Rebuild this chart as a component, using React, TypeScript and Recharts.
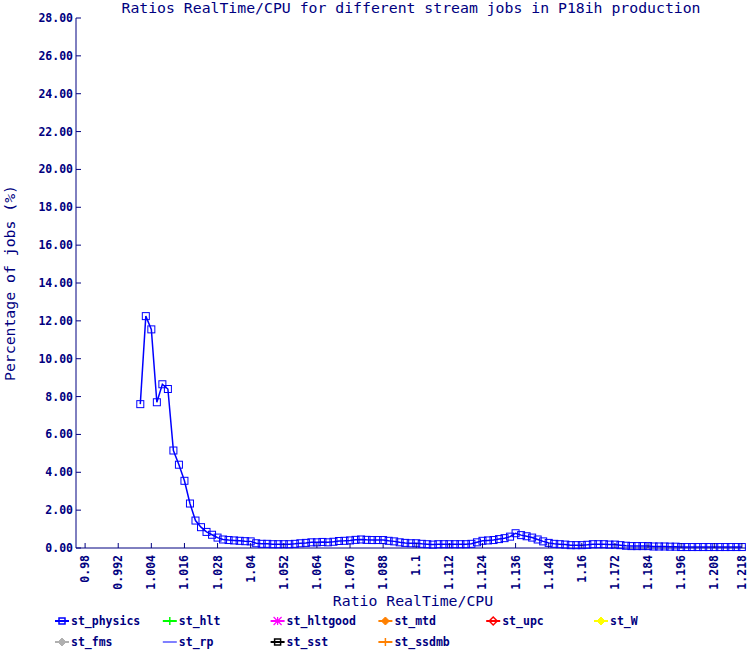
import React from 'react';
import { LineChart, Line, XAxis, YAxis } from 'recharts';

const NAVY = '#000080';
const MONO = '"DejaVu Sans Mono", monospace';

const ratioValues = [
  1.000, 1.002, 1.004, 1.006, 1.008, 1.010, 1.012, 1.014, 1.016, 1.018,
  1.020, 1.022, 1.024, 1.026, 1.028, 1.030, 1.032, 1.034, 1.036, 1.038,
  1.040, 1.042, 1.044, 1.046, 1.048, 1.050, 1.052, 1.054, 1.056, 1.058,
  1.060, 1.062, 1.064, 1.066, 1.068, 1.070, 1.072, 1.074, 1.076, 1.078,
  1.080, 1.082, 1.084, 1.086, 1.088, 1.090, 1.092, 1.094, 1.096, 1.098,
  1.100, 1.102, 1.104, 1.106, 1.108, 1.110, 1.112, 1.114, 1.116, 1.118,
  1.120, 1.122, 1.124, 1.126, 1.128, 1.130, 1.132, 1.134, 1.136, 1.138,
  1.140, 1.142, 1.144, 1.146, 1.148, 1.150, 1.152, 1.154, 1.156, 1.158,
  1.160, 1.162, 1.164, 1.166, 1.168, 1.170, 1.172, 1.174, 1.176, 1.178,
  1.180, 1.182, 1.184, 1.186, 1.188, 1.190, 1.192, 1.194, 1.196, 1.198,
  1.200, 1.202, 1.204, 1.206, 1.208, 1.210, 1.212, 1.214, 1.216, 1.218,
];

const physicsPct = [
  7.6, 12.25, 11.55, 7.7, 8.65, 8.4, 5.15, 4.4, 3.55, 2.35,
  1.45, 1.1, 0.85, 0.7, 0.55, 0.45, 0.42, 0.4, 0.38, 0.36,
  0.35, 0.25, 0.22, 0.22, 0.2, 0.2, 0.2, 0.2, 0.22, 0.25,
  0.27, 0.3, 0.3, 0.32, 0.3, 0.33, 0.37, 0.38, 0.4, 0.43,
  0.45, 0.43, 0.42, 0.42, 0.42, 0.38, 0.35, 0.3, 0.27, 0.25,
  0.25, 0.22, 0.2, 0.18, 0.2, 0.2, 0.2, 0.2, 0.2, 0.2,
  0.22, 0.3, 0.38, 0.4, 0.42, 0.47, 0.52, 0.6, 0.78, 0.68,
  0.62, 0.55, 0.45, 0.35, 0.27, 0.22, 0.2, 0.18, 0.15, 0.15,
  0.15, 0.17, 0.2, 0.2, 0.2, 0.18, 0.18, 0.15, 0.12, 0.1,
  0.1, 0.1, 0.1, 0.08, 0.08, 0.08, 0.07, 0.07, 0.05, 0.05,
  0.05, 0.05, 0.05, 0.05, 0.05, 0.05, 0.05, 0.05, 0.05, 0.05,
];

const xTickValues = [
  0.98, 0.992, 1.004, 1.016, 1.028, 1.04, 1.052, 1.064, 1.076, 1.088, 1.1,
  1.112, 1.124, 1.136, 1.148, 1.16, 1.172, 1.184, 1.196, 1.208, 1.218,
];

const yTickValues = [0, 2, 4, 6, 8, 10, 12, 14, 16, 18, 20, 22, 24, 26, 28];

const seriesNames = ['st_physics', 'st_hlt', 'st_hltgood', 'st_mtd', 'st_upc', 'st_W', 'st_fms', 'st_rp', 'st_sst', 'st_ssdmb'];
const seriesColors = ['#0000ff', '#00ff00', '#ff00ff', '#ff8000', '#ff0000', '#ffff00', '#b0b0b0', '#8080ff', '#000000', '#ff8000'];
const seriesMarkers = ['square', 'plus', 'star', 'diamondFill', 'diamond', 'diamondFill', 'diamondFill', 'none', 'square', 'plus'];

const data = ratioValues.map((r, i) => ({ ratio: r, st_physics: physicsPct[i] }));

const YTick = (p: any) => {
  const { x, y, payload } = p;
  return (
    <g>
      <line x1={x + 3} x2={x + 8} y1={y} y2={y} stroke={NAVY} />
      <text x={x} y={y + 4} textAnchor="end" fill={NAVY} fontFamily={MONO} fontWeight="bold" fontSize={11.5}>
        {Number(payload.value).toFixed(2)}
      </text>
    </g>
  );
};

const XTick = (p: any) => {
  const { x, y, payload } = p;
  return (
    <g>
      <line x1={x} x2={x} y1={y} y2={y - 5} stroke={NAVY} />
      <text
        transform={`translate(${x + 4},${y + 7}) rotate(-90)`}
        textAnchor="end"
        fill={NAVY}
        fontFamily={MONO}
        fontWeight="bold"
        fontSize={11.5}
      >
        {String(payload.value)}
      </text>
    </g>
  );
};

const SquareDot = (p: any) => {
  const { cx, cy, index } = p;
  if (cx == null || cy == null) return <g key={`d-${index}`} />;
  return (
    <rect key={`d-${index}`} x={cx - 3.5} y={cy - 3.5} width={7} height={7} fill="none" stroke="#0000ff" strokeWidth={1} />
  );
};

const LegendIcon = ({ x, y, color, marker }: { x: number; y: number; color: string; marker: string }) => {
  const cx = x + 7;
  let m: React.ReactNode = null;
  if (marker === 'square') m = <rect x={cx - 3} y={y - 3} width={6} height={6} fill="none" stroke={color} strokeWidth={1.5} />;
  else if (marker === 'plus') m = <path d={`M${cx} ${y - 4}V${y + 4}`} stroke={color} strokeWidth={1.5} />;
  else if (marker === 'star')
    m = <path d={`M${cx} ${y - 4}V${y + 4}M${cx - 4} ${y - 4}L${cx + 4} ${y + 4}M${cx + 4} ${y - 4}L${cx - 4} ${y + 4}`} stroke={color} strokeWidth={1.2} />;
  else if (marker === 'diamondFill')
    m = <polygon points={`${cx},${y - 4} ${cx + 4},${y} ${cx},${y + 4} ${cx - 4},${y}`} fill={color} stroke={color} />;
  else if (marker === 'diamond')
    m = <polygon points={`${cx},${y - 4} ${cx + 4},${y} ${cx},${y + 4} ${cx - 4},${y}`} fill="none" stroke={color} strokeWidth={1.5} />;
  return (
    <g>
      <line x1={x} x2={x + 14} y1={y} y2={y} stroke={color} strokeWidth={2} />
      {m}
    </g>
  );
};

export default function App() {
  return (
    <div style={{ position: 'absolute', left: 0, top: 0, width: 750, height: 650, background: '#fff' }}>
      <LineChart width={750} height={650} data={data} margin={{ top: 18, right: 4, bottom: 52, left: 16 }}>
        <XAxis
          dataKey="ratio"
          type="number"
          domain={[0.9767, 1.2195]}
          ticks={xTickValues}
          interval={0}
          height={50}
          tickSize={0}
          tickMargin={0}
          tick={<XTick />}
          axisLine={{ stroke: NAVY }}
          allowDataOverflow
        />
        <XAxis xAxisId="top" orientation="top" type="number" domain={[0.9767, 1.2195]} height={0} tick={false} tickLine={false} axisLine={{ stroke: NAVY }} />
        <YAxis
          domain={[0, 28]}
          ticks={yTickValues}
          interval={0}
          width={60}
          tickSize={0}
          tickMargin={3}
          tick={<YTick />}
          axisLine={{ stroke: NAVY }}
        />
        <YAxis yAxisId="right" orientation="right" width={0} tick={false} tickLine={false} axisLine={{ stroke: NAVY }} />
        <Line
          dataKey="st_physics"
          stroke="#0000ff"
          strokeWidth={1.5}
          dot={SquareDot}
          activeDot={false}
          isAnimationActive={false}
          type="linear"
        />
      </LineChart>
      <svg width={750} height={650} style={{ position: 'absolute', left: 0, top: 0, pointerEvents: 'none' }}>
        <text x={411} y={13} textAnchor="middle" fill={NAVY} fontFamily={MONO} fontSize={14.8}>
          Ratios RealTime/CPU for different stream jobs in P18ih production
        </text>
        <text x={413} y={606} textAnchor="middle" fill={NAVY} fontFamily={MONO} fontSize={14.8}>
          Ratio RealTime/CPU
        </text>
        <text transform="translate(15,283) rotate(-90)" textAnchor="middle" fill={NAVY} fontFamily={MONO} fontSize={14.8}>
          Percentage of jobs (%)
        </text>
        {seriesNames.map((name, i) => {
          const col = i < 6 ? i : i - 6;
          const row = i < 6 ? 0 : 1;
          const tx = 71 + col * 107.8;
          const ty = 621 + row * 21;
          return (
            <g key={name}>
              <LegendIcon x={tx - 16} y={ty} color={seriesColors[i]} marker={seriesMarkers[i]} />
              <text x={tx} y={ty + 4} fill={NAVY} fontFamily={MONO} fontWeight="bold" fontSize={11.5}>
                {name}
              </text>
            </g>
          );
        })}
      </svg>
    </div>
  );
}
